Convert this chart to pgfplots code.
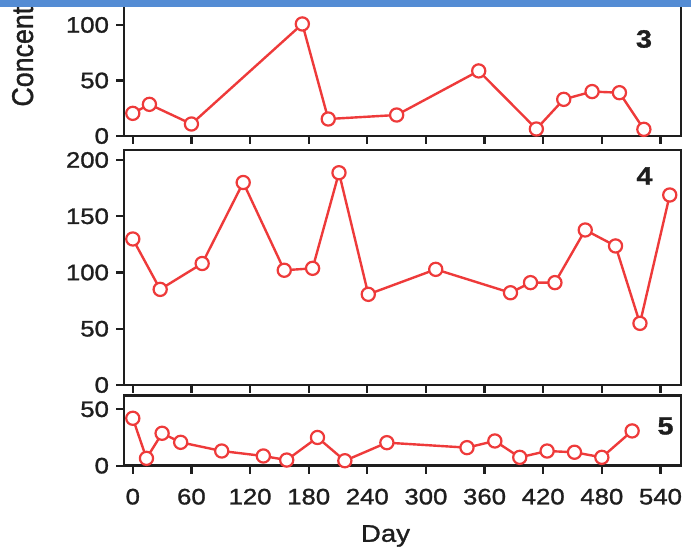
\documentclass[border=0pt]{standalone}
\usepackage{pgfplots}
\pgfplotsset{compat=1.18}
\usepackage{fontspec}
\setmainfont{Liberation Sans}[FakeStretch=1.15, FakeBold=1.2]
\newfontfamily\plainsans{Liberation Sans}[FakeBold=1.2]
\usepackage{graphicx}
\definecolor{dred}{RGB}{238,58,58}
\definecolor{hdrblue}{RGB}{84,140,212}
\definecolor{axgray}{RGB}{30,30,30}
\pgfplotsset{
  panel/.style={
    scale only axis, width=278.5pt, xmin=-9, xmax=561, anchor=south west,
    xtick={0,60,...,540}, xtick pos=bottom, ytick pos=left, tick align=outside,
    major tick length=4pt,
    axis line style={axgray, line width=1.2pt},
    tick style={axgray, line width=1.1pt},
    clip=false,
    tick label style={font=\fontsize{11.2}{13}\selectfont, text=axgray},
    /pgf/number format/assume math mode=true,
  },
  series/.style={dred, line width=1.2pt, mark=*, mark size=3.3pt,
    mark options={fill=white, draw=dred, line width=1.1pt}},
}
\begin{document}
\begin{tikzpicture}
\useasboundingbox (0,0) rectangle (345.5pt,278pt);
\clip (0,0) rectangle (345.5pt,278pt);
% panel 3 (top)
\begin{axis}[panel, at={(62pt,210pt)}, height=69.4pt, ymin=0, ymax=125,
  ytick={0,50,100}, xticklabels={}]
\addplot[series] coordinates {
(0,20.4) (17,28.5) (60,10.8) (173.5,100.9) (200,15.3) (270,18.9)
(354,58.6) (413,6.3) (441,33) (470,40) (498,39) (523,6)};
\end{axis}
% panel 4 (middle)
\begin{axis}[panel, at={(62pt,85.5pt)}, height=117.5pt, ymin=0, ymax=208.9,
  ytick={0,50,100,150,200}, xticklabels={}]
\addplot[series] coordinates {
(0,129.8) (28,85) (71,108) (113,180) (155,102) (184,103.7) (211,188.7)
(241,80.6) (310,102.8) (386.5,82) (407,91) (432,91) (463,137.8)
(494,123.6) (519,54.8) (549.5,168.9)};
\end{axis}
% panel 5 (bottom)
\begin{axis}[panel, at={(62pt,45.15pt)}, height=35pt, ymin=0, ymax=62,
  ytick={0,50}, xticklabel style={yshift=-4pt}]
\addplot[series] coordinates {
(0,42) (14,6.5) (30,28.7) (49,20.7) (91,13) (133.6,8.6) (157.5,5)
(189,25) (217,4.4) (260,20.4) (342,16) (370.5,21.9) (396,7.4)
(424,13) (452,11.9) (480,7.4) (511,30.8)};
\end{axis}
\node[font=\bfseries\fontsize{12.5}{14}\selectfont, text=axgray] at (322pt,258.5pt) {3};
\node[font=\bfseries\fontsize{12.5}{14}\selectfont, text=axgray] at (322.25pt,190pt) {4};
\node[font=\bfseries\fontsize{12.5}{14}\selectfont, text=axgray] at (332.75pt,65pt) {5};
\node[font=\fontsize{12}{14}\selectfont, text=axgray] at (192.75pt,10pt) {Day};
\node[rotate=90, anchor=base west, inner sep=0pt, text=axgray] at (16.5pt,224.5pt)
  {\scalebox{1}[1.12]{\plainsans\fontsize{13.4}{15}\selectfont Concentration}};
\fill[hdrblue] (0,274.5pt) rectangle (345.5pt,278pt);
\end{tikzpicture}
\end{document}
